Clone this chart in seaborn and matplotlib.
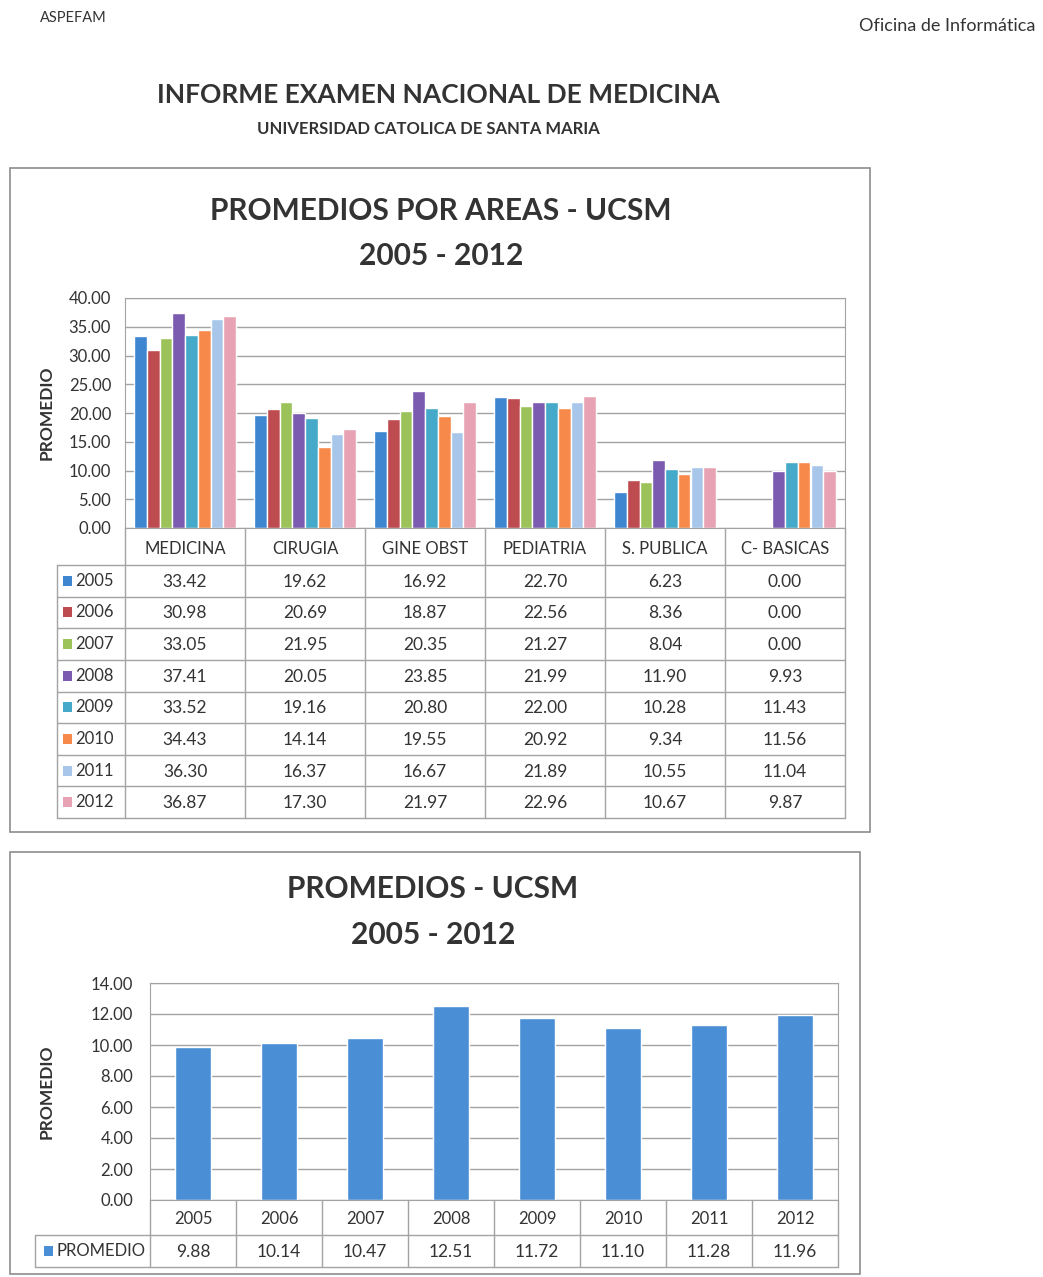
import numpy as np
import pandas as pd
import matplotlib.pyplot as plt
import seaborn as sns
from matplotlib.patches import Rectangle
from matplotlib.ticker import FormatStrFormatter

# Datos de la tabla (promedios por area y por anio)
areas = ["MEDICINA", "CIRUGIA", "GINE OBST", "PEDIATRIA", "S. PUBLICA", "C- BASICAS"]
anios = ["2005", "2006", "2007", "2008", "2009", "2010", "2011", "2012"]
medicina = [33.42, 30.98, 33.05, 37.41, 33.52, 34.43, 36.30, 36.87]
cirugia = [19.62, 20.69, 21.95, 20.05, 19.16, 14.14, 16.37, 17.30]
gine_obst = [16.92, 18.87, 20.35, 23.85, 20.80, 19.55, 16.67, 21.97]
pediatria = [22.70, 22.56, 21.27, 21.99, 22.00, 20.92, 21.89, 22.96]
s_publica = [6.23, 8.36, 8.04, 11.90, 10.28, 9.34, 10.55, 10.67]
c_basicas = [0.00, 0.00, 0.00, 9.93, 11.43, 11.56, 11.04, 9.87]
promedio_total = [9.88, 10.14, 10.47, 12.51, 11.72, 11.10, 11.28, 11.96]

colores_anios = ["#3E86D0", "#BE4B50", "#9CC35A", "#7A5BB0",
                 "#45A9C9", "#F78A4A", "#A7C6EA", "#E7A3B4"]
azul_total = "#4A8FD6"

W, H = 1043, 1277
GRIS_TXT = "#333333"
GRIS_LIN = "#A3A3A3"

sns.set_style("white")
plt.rcParams['font.family'] = ['Lato', 'DejaVu Sans']


def px_rect(x0, y0, x1, y1):
    return [x0 / W, 1 - y1 / H, (x1 - x0) / W, (y1 - y0) / H]


valores = [medicina, cirugia, gine_obst, pediatria, s_publica, c_basicas]
df = pd.DataFrame([(a, y, v[i]) for a, v in zip(areas, valores) for i, y in enumerate(anios)],
                  columns=["area", "anio", "valor"])
df_tot = pd.DataFrame({"anio": anios, "valor": promedio_total})

fig = plt.figure(figsize=(W / 100, H / 100), dpi=100)
fig.patch.set_facecolor("white")

# capa en pixeles para textos, marcos y tablas
ov = fig.add_axes([0, 0, 1, 1], zorder=0)
ov.set_xlim(0, W)
ov.set_ylim(H, 0)
ov.axis("off")

ov.text(40, 18, "ASPEFAM", fontsize=10.5, color=GRIS_TXT, va="center")
ov.text(1035, 26, "Oficina de Informática", fontsize=13, color=GRIS_TXT, va="center", ha="right")
ov.text(438, 95, "INFORME EXAMEN NACIONAL DE MEDICINA", fontsize=19, weight="bold",
        color=GRIS_TXT, ha="center", va="center")
ov.text(428, 129, "UNIVERSIDAD CATOLICA DE SANTA MARIA", fontsize=12, weight="bold",
        color=GRIS_TXT, ha="center", va="center")

# marcos de los graficos
ov.add_patch(Rectangle((10, 168), 860, 664, fill=False, ec="#8C8C8C", lw=1.2))
ov.add_patch(Rectangle((10, 852), 850, 422, fill=False, ec="#8C8C8C", lw=1.2))

ov.text(441, 211, "PROMEDIOS POR AREAS - UCSM", fontsize=21.5, weight="bold",
        color=GRIS_TXT, ha="center", va="center")
ov.text(441, 256, "2005 - 2012", fontsize=21.5, weight="bold",
        color=GRIS_TXT, ha="center", va="center")
ov.text(433, 889, "PROMEDIOS - UCSM", fontsize=21.5, weight="bold",
        color=GRIS_TXT, ha="center", va="center")
ov.text(433, 935, "2005 - 2012", fontsize=21.5, weight="bold",
        color=GRIS_TXT, ha="center", va="center")

# ---------- grafico 1: promedios por areas ----------
X0, X1, Y0, Y1 = 125, 845, 298, 528
ax1 = fig.add_axes(px_rect(X0, Y0, X1, Y1), zorder=1)
sns.barplot(data=df, x="area", y="valor", hue="anio", palette=colores_anios,
            width=0.85, gap=0, saturation=1, legend=False, ax=ax1, errorbar=None)
ax1.set_ylim(0, 40)
ax1.set_xlim(-0.5, len(areas) - 0.5)
ax1.set_yticks(np.arange(0, 41, 5))
ax1.yaxis.set_major_formatter(FormatStrFormatter("%.2f"))
ax1.yaxis.grid(True, color=GRIS_LIN, lw=1)
ax1.set_axisbelow(True)
ax1.set_xticks([])
ax1.set_xlabel("")
ax1.set_ylabel("PROMEDIO", fontsize=12.5, weight="bold", color=GRIS_TXT, labelpad=10)
ax1.tick_params(axis="y", length=0, labelsize=12, labelcolor=GRIS_TXT, pad=10)
for s in ax1.spines.values():
    s.set_color(GRIS_LIN)
    s.set_linewidth(0.8)

# tabla de datos 1
col_w = (X1 - X0) / len(areas)
hdr_bot = 565
row_h = (818 - hdr_bot) / len(anios)
leg_x0 = 57
tab_bot = hdr_bot + row_h * len(anios)
# lineas horizontales
ov.plot([X0, X1], [hdr_bot, hdr_bot], color=GRIS_LIN, lw=1)
for r in range(1, len(anios) + 1):
    y = hdr_bot + r * row_h
    ov.plot([leg_x0, X1], [y, y], color=GRIS_LIN, lw=1)
ov.plot([leg_x0, X0], [hdr_bot, hdr_bot], color=GRIS_LIN, lw=1)
# lineas verticales
for c in range(len(areas) + 1):
    x = X0 + c * col_w
    ov.plot([x, x], [Y1, tab_bot], color=GRIS_LIN, lw=1)
ov.plot([leg_x0, leg_x0], [hdr_bot, tab_bot], color=GRIS_LIN, lw=1)
for c, a in enumerate(areas):
    ov.text(X0 + (c + 0.5) * col_w, (Y1 + hdr_bot) / 2 + 2, a, fontsize=12,
            color=GRIS_TXT, ha="center", va="center")
for r, anio in enumerate(anios):
    yc = hdr_bot + (r + 0.5) * row_h
    ov.add_patch(Rectangle((leg_x0 + 6, yc - 5), 9, 10, color=colores_anios[r], lw=0))
    ov.text(leg_x0 + 18, yc, anio, fontsize=12, color=GRIS_TXT, va="center")
    for c, v in enumerate(valores):
        ov.text(X0 + (c + 0.5) * col_w, yc + 1, f"{v[r]:.2f}", fontsize=12.5,
                color=GRIS_TXT, ha="center", va="center")

# ---------- grafico 2: promedio general ----------
B0, B1, C0, C1 = 150, 838, 983, 1200
ax2 = fig.add_axes(px_rect(B0, C0, B1, C1), zorder=1)
sns.barplot(data=df_tot, x="anio", y="valor", color=azul_total, width=0.42,
            saturation=1, ax=ax2, errorbar=None)
ax2.set_ylim(0, 14)
ax2.set_xlim(-0.5, len(anios) - 0.5)
ax2.set_yticks(np.arange(0, 15, 2))
ax2.yaxis.set_major_formatter(FormatStrFormatter("%.2f"))
ax2.yaxis.grid(True, color=GRIS_LIN, lw=1)
ax2.set_axisbelow(True)
ax2.set_xticks([])
ax2.set_xlabel("")
ax2.set_ylabel("PROMEDIO", fontsize=12.5, weight="bold", color=GRIS_TXT, labelpad=26)
ax2.tick_params(axis="y", length=0, labelsize=12, labelcolor=GRIS_TXT, pad=12)
for s in ax2.spines.values():
    s.set_color(GRIS_LIN)
    s.set_linewidth(0.8)

# tabla de datos 2
col_w2 = (B1 - B0) / len(anios)
hdr2 = 1235
bot2 = 1267
leg2 = 35
ov.plot([leg2, B1], [hdr2, hdr2], color=GRIS_LIN, lw=1)
ov.plot([leg2, B1], [bot2, bot2], color=GRIS_LIN, lw=1)
for c in range(len(anios) + 1):
    x = B0 + c * col_w2
    ov.plot([x, x], [C1, bot2], color=GRIS_LIN, lw=1)
ov.plot([leg2, leg2], [hdr2, bot2], color=GRIS_LIN, lw=1)
yc2 = (hdr2 + bot2) / 2
ov.add_patch(Rectangle((leg2 + 9, yc2 - 5), 9, 10, color=azul_total, lw=0))
ov.text(leg2 + 21, yc2, "PROMEDIO", fontsize=12, color=GRIS_TXT, va="center")
for c, anio in enumerate(anios):
    xc = B0 + (c + 0.5) * col_w2
    ov.text(xc, (C1 + hdr2) / 2 + 1, anio, fontsize=12, color=GRIS_TXT, ha="center", va="center")
    ov.text(xc, yc2 + 1, f"{promedio_total[c]:.2f}", fontsize=12.5, color=GRIS_TXT,
            ha="center", va="center")

fig.savefig("out.png", dpi=100, facecolor="white")
